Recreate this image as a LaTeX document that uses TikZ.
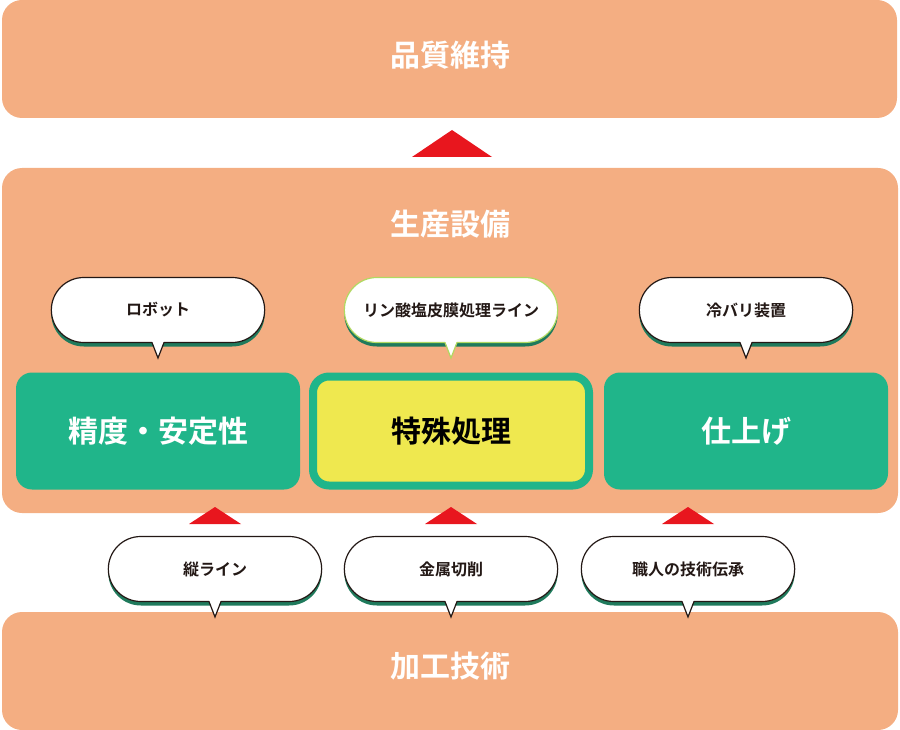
\documentclass[tikz,border=0pt]{standalone}
\usepackage{fontspec}
\newfontfamily\cjk{Noto Sans CJK JP}[BoldFont={Noto Sans CJK JP Bold}]
\usetikzlibrary{shapes.misc,positioning}
\definecolor{salmon}{HTML}{F4AE82}
\definecolor{leaf}{HTML}{20B58A}
\definecolor{lemon}{HTML}{EFE84F}
\definecolor{signal}{HTML}{E8161E}
\definecolor{shade}{HTML}{1F7A5C}
\definecolor{ink}{HTML}{231815}
\tikzset{
  layer/.style={fill=salmon, rounded corners=20pt},
  title/.style={text=white, font=\cjk\bfseries\fontsize{30}{30}\selectfont},
  stage/.style={fill=leaf, rounded corners=16pt, minimum width=284pt, minimum height=117pt,
    text=white, font=\cjk\bfseries\fontsize{30}{30}\selectfont},
  bubble/.style={rounded rectangle, fill=white, draw=ink, line width=1.2pt,
    minimum width=220pt, minimum height=65pt, font=\cjk\bfseries\fontsize{16}{16}\selectfont, text=ink},
  rise/.style={fill=signal}
}
% speech bubble: name, centre x, centre y, outline colour, text
\newcommand{\bubblenode}[5]{
  \node[bubble, draw=none, fill=shade] at (#2,#3+4) {};
  \node[bubble, draw=#4] (#1) at (#2,#3) {#5};
  \coordinate (#1-tip) at (#2,#3+48);
  \fill[white] (#2-6,#3+31) -- (#1-tip) -- (#2+6,#3+31) -- cycle;
  \draw[#4, line width=1.2pt] (#2-6,#3+32.6) -- (#1-tip) -- (#2+6,#3+32.6);
}
\begin{document}
\begin{tikzpicture}[x=1pt,y=-1pt]
    \useasboundingbox (0,0) rectangle (900,730);

    % Layers
    \fill[layer] (2,0) rectangle (897,118);
    \node[title] (quality) at (450,55) {品質維持};
    \fill[layer] (2,168) rectangle (898,513);
    \node[title] (equipment) at (450,224) {生産設備};
    \fill[layer] (2,612) rectangle (898,730);
    \node[title] (technique) at (450,666) {加工技術};

    % Upward marks
    \fill[rise] (412,157) -- (452,130) -- (492,157) -- cycle;
    \foreach \x in {215,451,688} {
        \fill[rise] (\x-26,524) -- (\x,507) -- (\x+26,524) -- cycle;
    }

    % Stages
    \node[stage] (precision) at (158,431) {精度・安定性};
    \node[stage, fill=lemon, draw=leaf, line width=8pt, minimum width=276pt, minimum height=109pt,
          text=black] (special) at (451,431) {特殊処理};
    \node[stage] (finish) at (746,431) {仕上げ};

    % Upper bubbles
    \bubblenode{robot}{158}{310}{ink}{ロボット}
    \bubblenode{coating}{451}{310}{lemon!70!leaf}{リン酸塩皮膜処理ライン}
    \bubblenode{deburr}{746}{310}{ink}{冷バリ装置}

    % Lower bubbles
    \bubblenode{vertical}{215}{569}{ink}{縦ライン}
    \bubblenode{cutting}{451}{569}{ink}{金属切削}
    \bubblenode{craft}{688}{569}{ink}{職人の技術伝承}
\end{tikzpicture}
\end{document}
